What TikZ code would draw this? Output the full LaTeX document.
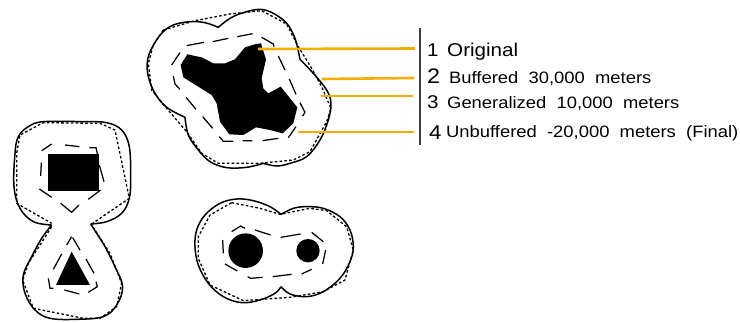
\documentclass[tikz,border=0pt]{standalone}
\usepackage{fontspec}
\setmainfont[FakeStretch=1.115]{Liberation Sans}
\definecolor{leader-orange}{HTML}{F7AC00}
\definecolor{rule-gray}{HTML}{404040}
\tikzset{
  solidline/.style={line width=1.5pt, line join=round},
  dotline/.style={line width=1.3pt, dash pattern=on 2.6pt off 2.2pt},
  dashline/.style={line width=1.25pt},
  leader/.style={line width=2.6pt, color=leader-orange},
  numlabel/.style={anchor=base west, inner sep=0pt},
  textlabel/.style={anchor=base west, inner sep=0pt, font=\fontsize{16.5}{18}\selectfont}
}
\begin{document}
\begin{tikzpicture}[x=1pt, y=-1pt]
    \useasboundingbox (0,0) rectangle (740,322);
    % large polygon, zoom units
    \begin{scope}[xshift=130pt, x=0.3333pt, y=-0.3333pt]
    \fill (378,132) -- (393,130) -- (408,178) -- (395,235) -- (400,265) -- (415,280)
      -- (452,260) -- (502,322) -- (490,370) -- (458,400) -- (420,390) -- (378,382)
      -- (340,405) -- (298,403) -- (270,365) -- (260,310) -- (245,285) -- (160,232)
      -- (152,195) -- (172,163) -- (215,172) -- (250,190) -- (285,190) -- (315,178)
      -- (345,142) -- cycle;
    \draw[solidline] plot[smooth, tension=0.6] coordinates {(265,82) (300,55) (340,38) (390,28) (430,40) (470,70) (495,115) (510,178)}
      plot[smooth, tension=0.6] coordinates {(510,178) (550,220) (590,270) (603,310) (595,360) (570,420) (530,470) (480,490) (440,498) (400,490)}
      plot[smooth, tension=0.6] coordinates {(400,490) (350,502) (290,503) (240,485) (205,450) (175,405) (165,352)}
      plot[smooth, tension=0.6] coordinates {(165,352) (110,322) (75,280) (55,230) (52,185) (65,145) (95,100) (130,75) (180,65) (225,68) (265,82)};
    \draw[dotline] (100,90) -- (195,62) -- (300,42) -- (395,32) -- (470,72) -- (505,140)
      -- (545,205) -- (575,260) -- (603,325) -- (590,365) -- (540,455) -- (490,480)
      -- (390,490) -- (265,490) -- (215,460) -- (170,395) -- (110,325) -- (65,270)
      -- (55,190) -- (70,135) -- cycle;
    \draw[dashline] (170,137) -- (222,127) (248,125) -- (295,115) (322,110) -- (368,101)
      (395,112) -- (430,132) -- (432,140) (445,168) -- (465,210) (478,237) -- (498,283)
      (510,308) -- (525,337) -- (518,348) (498,380) -- (475,413) (445,415) -- (398,422)
      (367,422) -- (338,422) (310,424) -- (280,424) -- (268,410) (248,385) -- (218,350)
      (198,328) -- (168,292) (150,268) -- (135,252) -- (130,228) (125,195) -- (150,158);
    \end{scope}
    % left pair
    \begin{scope}[yshift=-110pt, x=0.3333pt, y=-0.3333pt]
    \fill (143,133) rectangle (297,243);
    \fill (215,425) -- (270,525) -- (168,525) -- cycle;
    \draw[solidline] plot[smooth, tension=0.6] coordinates {(272,342) (320,335) (365,310) (388,265) (392,200) (388,110) (365,60) (320,38) (250,35) (130,35) (85,50) (55,80) (45,130) (42,230) (60,295) (100,335) (155,345)}
      plot[smooth, tension=0.6] coordinates {(155,345) (125,385) (95,440) (70,495) (75,550) (105,600) (150,625) (230,628) (310,620) (350,585) (368,530) (345,470) (315,410) (290,370) (272,342)};
    \draw[dotline] (275,342) -- (388,265) -- (345,60) -- (300,40) -- (130,38) -- (60,75)
      -- (50,130) -- (50,280) -- (155,340);
    \draw[dotline] (155,350) -- (85,460) -- (68,510) -- (100,595) -- (250,625) -- (300,625)
      -- (350,590) -- (365,520) -- (330,430) -- (275,345);
    \draw[dashline] (125,122) -- (155,102) (195,105) -- (238,110) (268,113) -- (288,113) -- (293,135)
      (298,165) -- (312,215) (302,240) -- (265,268) (237,285) -- (215,307) -- (182,280)
      (155,262) -- (118,237) (124,158) -- (122,198);
    \draw[dashline] (215,380) -- (200,405) (218,383) -- (240,420) (185,432) -- (160,478)
      (258,447) -- (282,490) (145,505) -- (150,535) -- (160,535) (193,540) -- (238,552)
      (265,547) -- (292,530) -- (288,515);
    \end{scope}
    % bottom pair
    \begin{scope}[xshift=180pt, yshift=-190pt, x=0.3333pt, y=-0.3333pt]
    \fill (197,182) circle (17.3pt);
    \fill (384,182) circle (11.7pt);
    \draw[solidline] plot[smooth, tension=0.6] coordinates {(303,73) (270,50) (220,32) (170,27) (120,40) (75,75) (50,120) (45,170) (55,225) (85,280) (130,320) (185,338) (240,330) (285,310) (303,290)}
      plot[smooth, tension=0.6] coordinates {(303,290) (330,312) (380,320) (430,305) (480,265) (510,215) (520,170) (510,120) (480,80) (430,55) (380,50) (340,55) (303,73)};
    \draw[dotline] (155,38) -- (240,55) -- (300,73) -- (390,55) -- (440,62) -- (500,110)
      -- (520,180) -- (495,270) -- (430,305) -- (330,322) -- (190,332) -- (90,285)
      -- (55,205) -- (55,140) -- (90,75) -- cycle;
    \draw[dashline] (128,150) -- (130,190) (155,125) -- (182,108) -- (195,115) (225,120) -- (272,135)
      (302,142) -- (362,132) (395,127) -- (430,155) (437,180) -- (428,222) (395,238) -- (365,252)
      (335,253) -- (278,260) (248,262) -- (212,265) -- (203,260) (172,243) -- (135,222);
    \end{scope}
    % legend
    \coordinate (top) at (420,28);
    \coordinate (bottom) at (420,145);
    \draw[line width=1.6pt, color=rule-gray] (top) -- (bottom);
    \node[numlabel, font=\fontsize{18.5}{20}\selectfont] (numa) at (427,56.7) {1};
    \node[numlabel, font=\fontsize{21}{22}\selectfont] (numb) at (427,83.3) {2};
    \node[numlabel, font=\fontsize{18.5}{20}\selectfont] (numc) at (427,108) {3};
    \node[numlabel, font=\fontsize{20}{22}\selectfont] (numd) at (429,139) {4};
    \node[textlabel, font=\fontsize{18.5}{20}\selectfont] (original) at (447,56.7) {Original};
    \node[textlabel] (buffered) at (449,83.3) {Buffered\ \ 30,000\ \ meters};
    \node[textlabel] (generalized) at (447,108) {Generalized\ \ 10,000\ \ meters};
    \node[textlabel] (unbuffered) at (446,137) {Unbuffered\ \ -20,000\ \ meters\ \ (Final)};
    % leaders
    \coordinate (srca) at (258,49);
    \coordinate (srcb) at (322,79);
    \coordinate (srcc) at (321,96);
    \coordinate (srcd) at (298,132);
    \coordinate (enda) at (415,48.5);
    \coordinate (endb) at (414,78);
    \coordinate (endc) at (413,96);
    \coordinate (endd) at (414,132);
    \draw[leader] (srca) -- (enda);
    \draw[leader] (srcb) -- (endb);
    \draw[leader] (srcc) -- (endc);
    \draw[leader] (srcd) -- (endd);
\end{tikzpicture}
\end{document}
